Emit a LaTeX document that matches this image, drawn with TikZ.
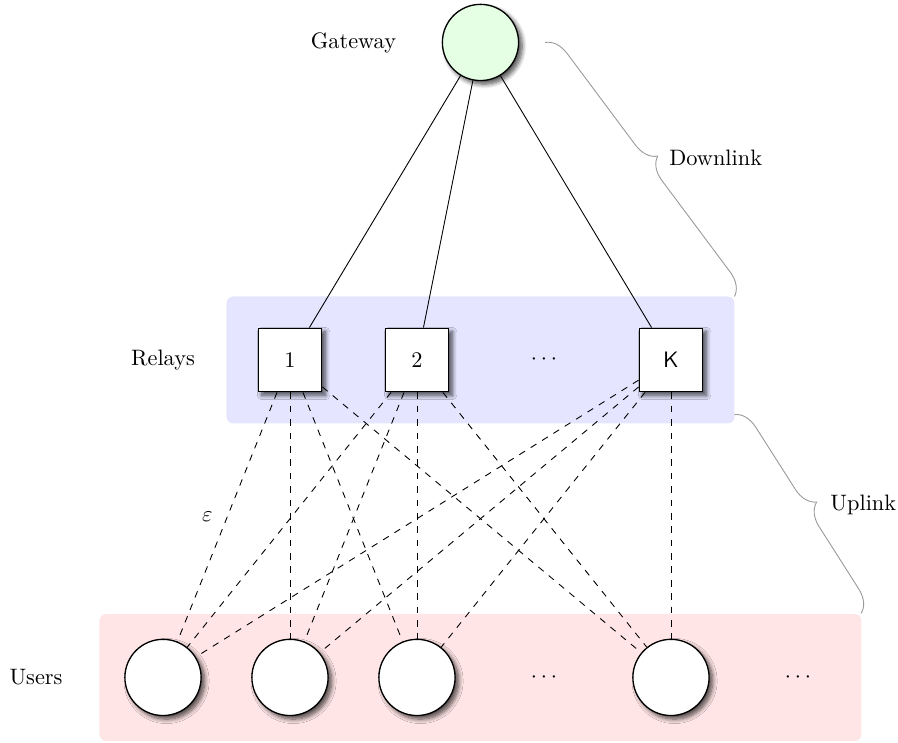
\documentclass[tikz,border=0pt]{standalone}
\usetikzlibrary{shadows.blur,decorations.pathreplacing}
\begin{document}
\begin{tikzpicture}[
  shadowed/.style={blur shadow={shadow xshift=1.6pt, shadow yshift=-1.6pt, shadow blur radius=2pt, shadow blur steps=8, shadow opacity=70}},
  relay/.style={draw, semithick, fill=white, minimum size=1cm, inner sep=0pt, shadowed},
  user/.style={circle, draw, semithick, fill=white, minimum size=1.2cm, inner sep=0pt, shadowed},
  gw/.style={circle, draw, semithick, fill=green!10, minimum size=1.2cm, inner sep=0pt, shadowed},
  link/.style={dashed},
  bracestyle/.style={draw=black!40, decorate, decoration={brace, amplitude=10pt}},
]
\useasboundingbox (-4.567,-6.031) rectangle (9.575,5.669);
\fill[blue!10, rounded corners=3pt] (-1,-1) rectangle (7,1);
\fill[red!10, rounded corners=3pt] (-3,-6) rectangle (9,-4);

\node[gw] (gw) at (3,5) {};
\node (gwl) at (1,5) {Gateway};

\node[relay] (r1) at (0,0) {1};
\node[relay] (r2) at (2,0) {2};
\node (rd) at (4,0) {$\cdots$};
\node[relay] (rk) at (6,0) {\textsf{K}};
\node (rl) at (-2,0) {Relays};

\node[user] (u1) at (-2,-5) {};
\node[user] (u2) at (0,-5) {};
\node[user] (u3) at (2,-5) {};
\node (ud) at (4,-5) {$\cdots$};
\node[user] (uk) at (6,-5) {};
\node (ud2) at (8,-5) {$\cdots$};
\node (ul) at (-4,-5) {Users};

\draw (gw) -- (r1);
\draw (gw) -- (r2);
\draw (gw) -- (rk);

\foreach \r in {r1,r2,rk}
  \foreach \u in {u1,u2,u3,uk}
    \draw[link] (\r) -- (\u);

\path (r1) -- (u1) node[midway, left=3pt] (eps) {$\varepsilon$};

\coordinate (d1) at (4.016,5);
\coordinate (d2) at (7,1);
\draw[bracestyle] (d1) -- (d2);
\node[anchor=west] (dl) at (5.85,3.18) {Downlink};

\coordinate (b1) at (7,-0.86);
\coordinate (b2) at (9,-4);
\draw[bracestyle] (b1) -- (b2);
\node[anchor=west] (bl) at (8.387,-2.283) {Uplink};
\end{tikzpicture}
\end{document}
